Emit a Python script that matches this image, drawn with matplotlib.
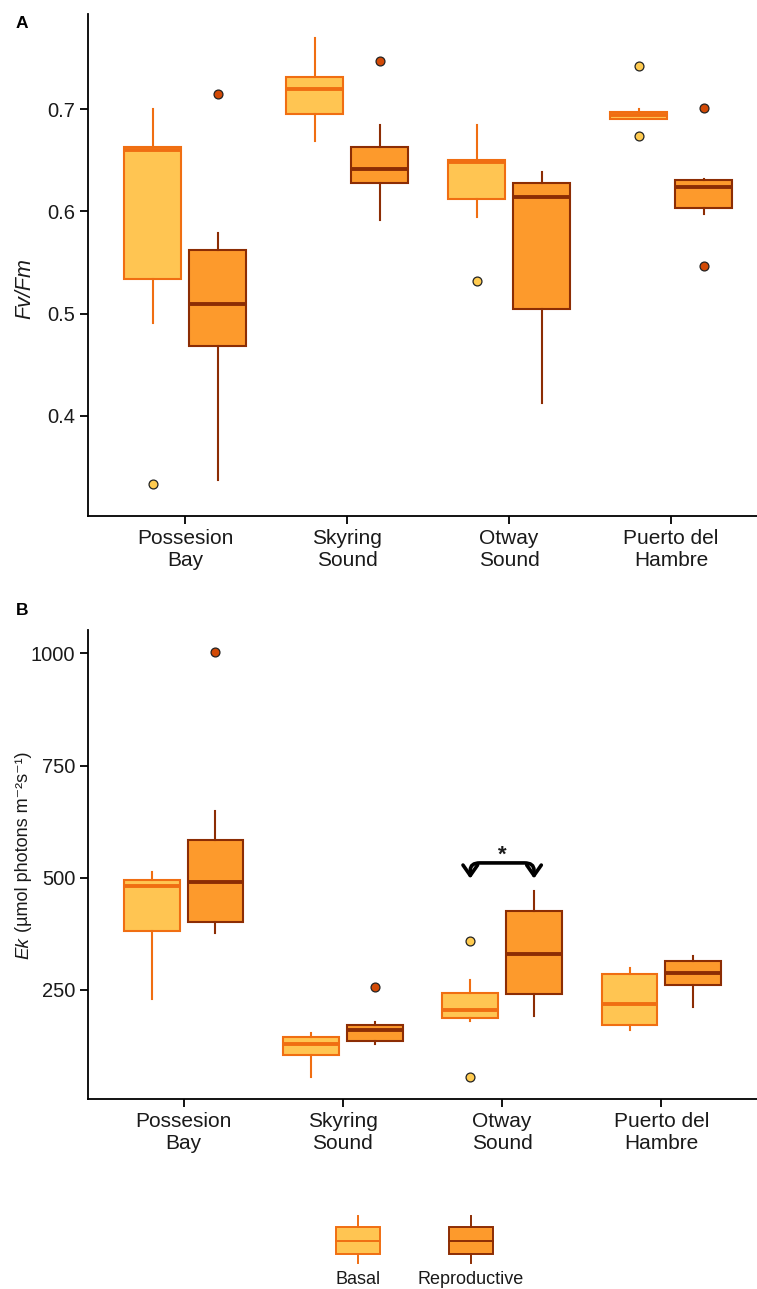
import matplotlib
matplotlib.use("Agg")
import matplotlib.pyplot as plt
import matplotlib.patches as mpatches
from matplotlib.path import Path
import numpy as np

plt.rcParams["font.family"] = ["Liberation Sans", "DejaVu Sans"]

sites = ["Possesion\nBay", "Skyring\nSound", "Otway\nSound", "Puerto del\nHambre"]
groups = ["Basal", "Reproductive"]

# Panel A: Fv/Fm box statistics
fv_basal_whislo = [0.491, 0.669, 0.594, 0.690]
fv_basal_q1 = [0.534, 0.695, 0.612, 0.690]
fv_basal_med = [0.660, 0.720, 0.648, 0.694]
fv_basal_q3 = [0.663, 0.731, 0.650, 0.697]
fv_basal_whishi = [0.700, 0.770, 0.684, 0.700]
fv_basal_fliers = [[0.333], [], [0.532], [0.742, 0.674]]

fv_rep_whislo = [0.337, 0.592, 0.413, 0.597]
fv_rep_q1 = [0.468, 0.628, 0.504, 0.603]
fv_rep_med = [0.509, 0.641, 0.614, 0.624]
fv_rep_q3 = [0.562, 0.663, 0.628, 0.631]
fv_rep_whishi = [0.579, 0.684, 0.638, 0.632]
fv_rep_fliers = [[0.715], [0.747], [], [0.701, 0.547]]

# Panel B: Ek box statistics
ek_basal_whislo = [229, 56, 181, 161]
ek_basal_q1 = [382, 104, 187, 171]
ek_basal_med = [481, 130, 205, 219]
ek_basal_q3 = [495, 146, 243, 286]
ek_basal_whishi = [512, 154, 272, 300]
ek_basal_fliers = [[], [], [359, 57], []]

ek_rep_whislo = [377, 129, 191, 213]
ek_rep_q1 = [402, 137, 240, 261]
ek_rep_med = [490, 161, 329, 288]
ek_rep_q3 = [584, 172, 427, 315]
ek_rep_whishi = [648, 179, 470, 326]
ek_rep_fliers = [[1004], [256], [], []]

# colours
B_FILL, B_EDGE, B_PT = "#FFC552", "#F06E12", "#FFCB50"
R_FILL, R_EDGE, R_PT = "#FD9A2C", "#8C2D04", "#D24A06"
TXT = "#1a1a1a"

W, H = 7.57, 12.89
fig = plt.figure(figsize=(W, H), dpi=100)


def px_axes(left, top, right, bottom):
    return fig.add_axes([left / 757, 1 - bottom / 1289,
                         (right - left) / 757, (bottom - top) / 1289])


def stats(whislo, q1, med, q3, whishi, fliers):
    return [dict(whislo=a, q1=b, med=c, q3=d, whishi=e, fliers=f)
            for a, b, c, d, e, f in zip(whislo, q1, med, q3, whishi, fliers)]


def draw_boxes(ax, st, pos, fill, edge, pt):
    ax.bxp(st, positions=pos, widths=0.35, patch_artist=True,
           showcaps=False, manage_ticks=False,
           boxprops=dict(facecolor=fill, edgecolor=edge, linewidth=1.5),
           medianprops=dict(color=edge, linewidth=2.8, solid_capstyle="butt"),
           whiskerprops=dict(color=edge, linewidth=1.5),
           flierprops=dict(marker="o", markersize=6.4, markerfacecolor=pt,
                           markeredgecolor="#222222", markeredgewidth=0.9))


def style(ax):
    for s in ["top", "right"]:
        ax.spines[s].set_visible(False)
    for s in ["left", "bottom"]:
        ax.spines[s].set_linewidth(1.3)
    ax.tick_params(axis="both", length=5.5, width=1.3, color="black",
                   labelcolor=TXT)
    ax.tick_params(axis="y", labelsize=14.5)
    ax.tick_params(axis="x", labelsize=15, pad=4)
    ax.set_xticks(np.arange(1, len(sites) + 1))
    ax.set_xticklabels(sites, linespacing=1.22)


x = np.arange(1, len(sites) + 1)

# ---- panel A ---------------------------------------------------------------
axA = px_axes(88, 14, 757, 516)
draw_boxes(axA, stats(fv_basal_whislo, fv_basal_q1, fv_basal_med, fv_basal_q3,
                      fv_basal_whishi, fv_basal_fliers), x - 0.2, B_FILL, B_EDGE, B_PT)
draw_boxes(axA, stats(fv_rep_whislo, fv_rep_q1, fv_rep_med, fv_rep_q3,
                      fv_rep_whishi, fv_rep_fliers), x + 0.2, R_FILL, R_EDGE, R_PT)
axA.set_xlim(0.4, 4.53)
axA.set_ylim(0.302, 0.793)
axA.set_yticks([0.4, 0.5, 0.6, 0.7])
style(axA)

# ---- panel B ---------------------------------------------------------------
axB = px_axes(88, 630, 757, 1099)
draw_boxes(axB, stats(ek_basal_whislo, ek_basal_q1, ek_basal_med, ek_basal_q3,
                      ek_basal_whishi, ek_basal_fliers), x - 0.2, B_FILL, B_EDGE, B_PT)
draw_boxes(axB, stats(ek_rep_whislo, ek_rep_q1, ek_rep_med, ek_rep_q3,
                      ek_rep_whishi, ek_rep_fliers), x + 0.2, R_FILL, R_EDGE, R_PT)
axB.set_xlim(0.4, 4.6)
axB.set_ylim(7, 1052)
axB.set_yticks([250, 500, 750, 1000])
style(axB)

# significance bracket over Otway Sound
x1, x2, ytop, ytip = 2.8, 3.2, 533, 498
verts = [(x1, ytip), (x1, ytop - 16), (x1, ytop), (x1 + 0.06, ytop),
         (x2 - 0.06, ytop), (x2, ytop), (x2, ytop - 16), (x2, ytip)]
codes = [Path.MOVETO, Path.LINETO, Path.CURVE3, Path.CURVE3,
         Path.LINETO, Path.CURVE3, Path.CURVE3, Path.LINETO]
arr = mpatches.FancyArrowPatch(path=Path(verts, codes),
                               arrowstyle="<->,head_length=0.5,head_width=0.35",
                               mutation_scale=15, color="black", linewidth=2.6)
axB.add_patch(arr)
axB.text(3.0, 550, "*", ha="center", va="center", fontsize=16,
         fontweight="bold", color=TXT)

# axis titles and panel letters
fig.text(25 / 757, 1 - 289 / 1289, "Fv/Fm", rotation=90, style="italic",
         ha="center", va="center", fontsize=15.5, color=TXT)
# Ek in italics, the units continue above it
ek = fig.text(24 / 757, 1 - 959 / 1289, "Ek", rotation=90, style="italic",
              ha="center", va="bottom", fontsize=13.5, color=TXT)
axB.annotate(" (µmol photons m\u207b\u00b2s\u207b\u00b9)", xy=(0.5, 1.0),
             xycoords=ek, rotation=90, ha="center", va="bottom",
             fontsize=13, color=TXT, annotation_clip=False)
fig.text(16 / 757, 1 - 23 / 1289, "A", fontsize=12.5, fontweight="bold",
         ha="left", va="center")
fig.text(16 / 757, 1 - 610 / 1289, "B", fontsize=12.5, fontweight="bold",
         ha="left", va="center")

# ---- legend (bottom) -------------------------------------------------------
axL = px_axes(0, 1190, 757, 1289)
axL.set_xlim(0, 757)
axL.set_ylim(1289, 1190)
axL.axis("off")
for cx, fill, edge, lab in [(358, B_FILL, B_EDGE, groups[0]),
                            (470.5, R_FILL, R_EDGE, groups[1])]:
    axL.plot([cx, cx], [1216, 1227], color=edge, lw=1.4)
    axL.plot([cx, cx], [1254, 1263], color=edge, lw=1.4)
    axL.add_patch(mpatches.Rectangle((cx - 22, 1227), 44, 27,
                                     facecolor=fill, edgecolor=edge, lw=1.4))
    axL.plot([cx - 22, cx + 22], [1240.5, 1240.5], color=edge, lw=1.4)
    axL.text(cx, 1280, lab, ha="center", va="center", fontsize=13,
             color=TXT)

fig.savefig("out.png", dpi=100)
